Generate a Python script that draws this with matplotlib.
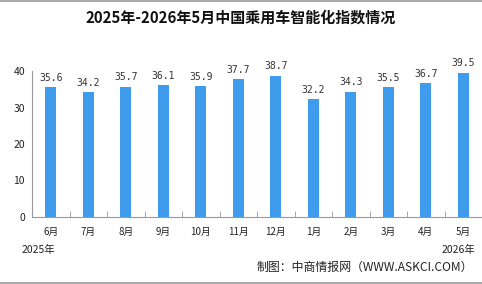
import matplotlib.pyplot as plt
import numpy as np
from matplotlib.lines import Line2D

plt.rcParams['font.family'] = ['Noto Sans CJK SC', 'DejaVu Sans']

months = ['6月', '7月', '8月', '9月', '10月', '11月', '12月', '1月', '2月', '3月', '4月', '5月']
values = [35.6, 34.2, 35.7, 36.1, 35.9, 37.7, 38.7, 32.2, 34.3, 35.5, 36.7, 39.5]
title = '2025年-2026年5月中国乘用车智能化指数情况'
source = '制图：中商情报网（WWW.ASKCI.COM）'

fig = plt.figure(figsize=(4.82, 2.84), dpi=100)
ax = fig.add_axes([32 / 482, 1 - 217 / 284, 450 / 482, 146 / 284])

x = np.arange(len(months))
ax.bar(x, values, width=0.3, color='#3f9bec', zorder=2)
for xi, v in zip(x, values):
    ax.text(xi, v + 1.2, f'{v:.1f}', ha='center', va='bottom', fontsize=7,
            color='#333333', family='DejaVu Sans Mono')

ax.set_xlim(-0.5, len(months) - 0.5)
ax.set_ylim(0, 40)
ax.set_yticks([0, 10, 20, 30, 40])
ax.set_xticks(x)
ax.set_xticklabels(months, fontsize=7, color='#222222')
ax.set_xticks(np.arange(-0.5, len(months), 1), minor=True)
ax.tick_params(axis='x', which='major', length=0, pad=7)
ax.tick_params(axis='x', which='minor', direction='in', length=4, color='#999999')
ax.tick_params(axis='y', length=0, pad=5, labelsize=7.5, labelcolor='#222222')
for s in ['top', 'right']:
    ax.spines[s].set_visible(False)
for s in ['left', 'bottom']:
    ax.spines[s].set_color('#999999')
    ax.spines[s].set_linewidth(0.8)

fig.text(0.5, 1 - 18 / 284, title, ha='center', va='center', fontsize=10.8,
         fontweight='bold', color='#111111')
fig.text(22 / 482, 1 - 250 / 284, '2025年', ha='left', va='center', fontsize=7.5, color='#222222')
fig.text(475 / 482, 1 - 250 / 284, '2026年', ha='right', va='center', fontsize=7.5, color='#222222')
fig.text(473 / 482, 1 - 267 / 284, source, ha='right', va='center', fontsize=8.6, color='#222222')

fig.add_artist(Line2D([0, 1], [1 - 0.5 / 284, 1 - 0.5 / 284], color='#999999', lw=1.2))
fig.add_artist(Line2D([0, 1], [1.5 / 284, 1.5 / 284], color='#999999', lw=1.2))

fig.savefig('out.png', dpi=100)
